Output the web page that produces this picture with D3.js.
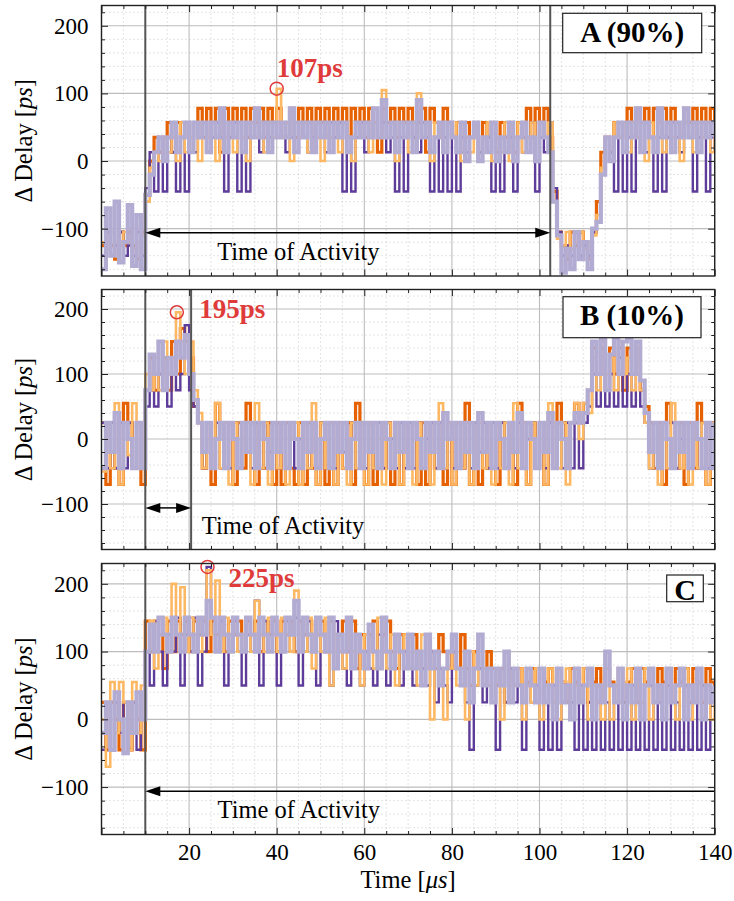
<!DOCTYPE html>
<html>
<head>
<meta charset="utf-8">
<script src="https://cdn.jsdelivr.net/npm/d3@7"></script>
<style>
body{margin:0;background:#fff}
</style>
</head>
<body>
<div id="chart"></div>
<script>
// one value per microsecond, t = 0 .. 140
const A_dkOrange = [-125,-105,-125,-145,-105,-125,-105,-125,-145,-105,
 -50,0,35,13,35,57,13,57,35,57,
 13,57,78,35,78,57,78,13,78,35,
 78,57,78,35,78,57,78,35,78,57,
 78,35,57,78,35,78,57,78,13,78,
 57,78,35,78,57,78,35,78,57,78,
 35,78,57,13,78,57,78,35,78,57,
 78,35,57,78,13,78,57,35,78,57,
 35,57,13,57,35,57,13,57,35,57,
 13,57,35,57,13,57,35,78,35,78,
 57,78,35,-45,-105,-125,-145,-105,-125,-105,
 -125,-145,-105,-60,13,35,13,57,35,57,
 78,35,78,57,78,35,78,57,78,35,
 78,57,35,78,57,78,35,78,57,78,
 35]
const A_ltOrange = [-120,-130,-105,-120,-125,-105,-120,-130,-120,-110,
 -60,-10,13,0,35,13,35,0,57,13,
 35,57,0,57,35,57,0,57,35,57,
 13,57,35,0,57,35,57,13,57,35,
 107,35,57,0,57,35,57,13,57,35,
 0,57,35,57,13,57,35,0,57,35,
 57,13,57,35,105,35,57,0,57,35,
 13,57,100,35,57,0,57,35,13,57,
 35,57,0,35,13,57,0,35,57,0,
 35,13,57,0,35,57,13,35,57,0,
 57,35,57,-60,-115,-125,-105,-130,-120,-105,
 -130,-120,-110,-80,-10,35,0,57,35,57,
 13,57,35,57,0,57,35,57,13,57,
 35,57,0,57,35,13,57,35,57,13,
 35]
const A_dkPurple = [-140,-105,-140,-125,-105,-140,-125,-140,-105,-140,
 -40,13,-45,35,-45,35,13,-45,35,-45,
 35,13,35,57,13,35,57,35,-45,35,
 57,-45,35,-45,57,35,13,57,35,57,
 35,57,13,35,57,35,57,13,35,57,
 35,13,57,35,57,-45,35,-45,35,57,
 13,35,57,35,57,13,35,-45,35,-45,
 57,35,13,57,35,-45,35,-45,35,-45,
 35,-45,35,13,35,57,13,35,35,-45,
 35,-45,13,35,-45,35,13,35,57,-45,
 35,13,57,-40,-105,-140,-125,-140,-105,-140,
 -125,-140,-105,-90,-20,35,13,-45,35,-45,
 35,-45,35,57,13,35,-45,35,-45,35,
 57,35,13,57,35,-45,35,57,-45,35,
 13]
const A_ltPurple = [-160,-70,-140,-60,-150,-120,-65,-155,-80,-160,
 -50,-20,13,35,0,35,57,13,35,57,
 13,57,35,57,13,57,35,78,13,57,
 35,57,13,57,35,78,35,57,13,57,
 35,57,35,78,13,57,35,57,13,57,
 35,57,13,57,35,57,13,35,57,35,
 57,35,78,35,90,35,57,13,57,35,
 57,13,90,35,57,13,35,57,13,57,
 35,13,57,0,35,57,0,35,13,57,
 0,35,13,57,0,35,57,13,35,0,
 57,35,13,-60,-110,-165,-130,-160,-105,-145,
 -120,-160,-100,-90,-20,35,0,35,57,13,
 57,35,78,13,57,35,13,78,35,57,
 13,57,35,78,35,57,13,57,35,57,
 35]

const B_dkOrange = [25,-70,25,-45,-70,55,25,-45,25,-70,
 75,125,75,100,125,75,150,100,170,150,
 125,50,25,-45,25,-70,55,25,-45,25,
 -70,25,-45,55,25,-70,25,-45,25,-70,
 25,-70,25,-45,-70,25,-70,25,-45,-70,
 25,-70,25,-70,25,-45,25,-70,55,25,
 -70,25,-70,25,-45,25,-70,25,-70,25,
 -45,25,-70,25,-70,25,-45,25,-70,25,
 -70,25,-45,55,-70,25,-70,25,-45,25,
 -70,25,-45,25,-70,55,25,-70,25,-45,
 25,-70,25,-45,55,25,-45,25,55,25,
 55,75,140,100,140,75,140,100,140,75,
 140,100,140,75,50,25,-45,25,-70,55,
 25,-45,25,-70,25,-45,55,25,-70,25,
 -45]
const B_ltOrange = [-50,25,-45,55,-70,25,-25,55,-45,0,
 100,75,125,75,150,100,125,195,150,100,
 150,75,40,-45,25,-25,55,-45,25,-70,
 25,-45,0,25,-70,55,-45,25,-70,25,
 -45,25,-70,0,25,-70,25,-45,55,-70,
 25,-45,25,-70,25,-45,-70,25,-45,25,
 -70,25,-45,0,-70,25,-45,25,-70,25,
 -45,-70,25,-45,25,-70,25,55,-45,25,
 -70,25,-45,25,-70,0,25,-45,25,-70,
 25,-45,25,-70,55,-45,25,-70,25,-45,
 25,-70,55,25,-45,25,-70,25,55,0,
 55,40,125,75,150,100,125,75,150,100,
 125,75,140,75,25,-45,25,-70,25,-45,
 55,25,-45,25,-70,25,-45,25,-70,25,
 0]
const B_dkPurple = [25,-45,25,-45,25,-45,25,-45,25,-45,
 50,75,50,100,75,50,100,75,100,175,
 75,50,25,-45,25,-45,25,-45,25,-45,
 25,-45,0,25,-45,25,-45,25,-20,25,
 -45,25,-45,25,-45,0,25,-45,25,-45,
 25,-45,25,-45,25,-20,-45,25,-45,25,
 -45,25,-45,25,-45,25,0,-45,25,-45,
 25,-45,25,-45,0,25,-45,25,-45,25,
 -45,25,-45,25,-45,25,-20,25,-45,25,
 -45,25,-45,25,-45,25,-45,0,25,-45,
 25,-45,25,-45,25,-45,25,-45,25,-45,
 25,50,100,50,150,50,100,50,125,50,
 100,50,150,50,25,-45,25,-45,25,-45,
 25,-45,0,25,-45,25,-45,25,-45,25,
 -45]
const B_ltPurple = [-45,25,-20,40,-45,25,0,-45,25,-45,
 75,130,100,150,75,125,100,150,125,160,
 100,60,25,-20,25,-45,0,25,-45,25,
 0,-45,25,-20,25,-45,25,0,-45,25,
 -20,25,-45,25,0,-45,25,-20,25,-45,
 0,25,-45,25,-20,25,-45,0,25,-45,
 25,-20,25,-45,25,0,-45,25,-20,25,
 -45,25,0,-45,25,-20,25,-45,40,0,
 25,-45,25,-20,25,-45,40,-20,25,-45,
 25,0,-45,25,-20,40,-45,25,0,-45,
 25,-20,40,-45,25,0,-45,25,40,25,
 40,75,150,100,155,75,130,155,100,150,
 155,100,150,90,40,-20,25,-45,25,0,
 -45,25,-20,25,-45,25,0,-45,25,-45,
 25]

const C_dkOrange = [25,-45,25,0,-45,25,-45,25,0,-45,
 145,100,145,125,75,145,100,145,125,145,
 100,145,125,145,100,145,125,145,100,145,
 125,145,100,145,125,145,100,145,125,145,
 100,145,125,145,100,145,125,145,100,125,
 145,100,145,75,125,145,100,145,75,125,
 100,125,145,75,125,145,100,75,125,100,
 75,125,100,75,125,100,75,125,100,75,
 100,75,125,75,50,100,75,50,100,75,
 50,75,25,75,50,75,25,55,75,25,
 75,55,75,25,75,55,25,75,55,25,
 75,25,55,75,25,75,55,25,75,25,
 55,75,25,75,55,75,25,75,55,75,
 25,75,55,75,25,75,55,25,75,55,
 25]
const C_ltOrange = [0,-70,55,-20,55,25,-45,55,-20,50,
 100,145,75,125,150,100,200,125,195,100,
 150,125,100,150,220,125,205,100,150,125,
 150,100,125,150,100,175,125,100,150,125,
 100,150,125,100,190,125,100,150,75,125,
 100,150,50,125,100,75,150,100,125,50,
 125,100,75,150,100,75,125,50,100,125,
 75,100,50,125,75,0,100,50,0,75,
 125,50,75,0,100,50,125,75,50,25,
 75,0,100,25,50,75,0,50,25,75,
 0,50,75,25,0,55,75,0,50,25,
 75,0,50,25,0,75,0,50,25,0,
 75,0,50,25,75,0,25,50,0,75,
 25,0,50,75,0,25,55,0,50,0,
 25]
const C_dkPurple = [-45,25,-45,25,-20,25,-45,25,-45,0,
 100,50,145,100,50,125,100,150,50,125,
 100,150,50,100,225,125,100,145,50,100,
 145,100,50,125,100,175,50,145,100,125,
 50,100,145,100,150,50,100,145,100,50,
 125,100,50,145,100,75,50,100,125,50,
 100,75,50,125,100,50,75,125,50,100,
 75,50,100,75,50,100,25,75,50,25,
 100,75,50,25,-45,50,75,25,50,25,
 -45,50,25,75,25,50,-45,50,25,50,
 -45,25,-45,50,-45,25,50,25,-45,50,
 -45,25,-45,50,-45,25,-45,50,-45,25,
 -45,50,-45,25,-45,50,-45,25,-45,50,
 -45,25,-45,50,-45,25,-45,50,-45,25,
 50]
const C_ltPurple = [-20,25,-45,40,0,-50,25,-20,40,0,
 100,140,100,150,125,100,150,125,100,150,
 125,100,150,125,175,150,100,150,125,100,
 150,125,100,150,125,100,150,125,100,150,
 125,100,150,125,175,100,150,125,100,150,
 125,100,150,75,125,100,150,75,125,100,
 75,140,100,75,150,100,75,125,100,75,
 125,75,100,50,125,75,100,50,75,100,
 125,75,50,100,25,75,125,50,75,25,
 75,50,100,25,75,50,25,75,50,25,
 75,25,50,0,75,25,50,0,75,25,
 50,75,0,50,25,100,50,25,75,0,
 50,25,75,0,50,75,25,50,0,75,
 25,50,75,0,50,25,75,0,50,25,
 50]

const xLabelTicks = [20,40,60,80,100,120,140]
const yLabelTicks = [-100,0,100,200]
const panelLabels = ["A (90%)","B (10%)","C"]
const peakTime = [40,17.2,24.2]
const peakValue = [107,195,225]
const peakText = ["107ps","195ps","225ps"]
const actStart = [10,10,10]
const actEnd = [102.45,20.46,140]
const actTextTime = [26.4,22.9,26.5]

const panelSeries = [
  [A_dkOrange,A_dkPurple,A_ltOrange,A_ltPurple],
  [B_dkOrange,B_dkPurple,B_ltOrange,B_ltPurple],
  [C_dkOrange,C_dkPurple,C_ltOrange,C_ltPurple]
]
const seriesColor = ["#e66101","#5e3c99","#fdb863","#b2abd2"]
const seriesWidth = [3.2,2.4,2.6,4.2]

var width = 734, height = 901
var plotLeft = 101.5, plotRight = 714.7
var panelTop = [5.5,289.5,563.5]
var panelBottom = [276,549.5,834.5]
var labelBox = [[562.7,13.3,139,39.4],[563,296.7,138,41],[666.7,575,36.6,26.7]]
var labelBase = [42,325,599.5]
var peakDx = [0,22.5,21]
var peakDy = [-11.3,6,20.3]
var serif = "'Liberation Serif','Times New Roman',serif"
var red = "#e03b3b"

const svg = d3.select("#chart").append("svg")
  .attr("width",width)
  .attr("height",height)
  .style("background","#fff")

const x = d3.scaleLinear().domain([0,140]).range([plotLeft,plotRight])

function tickAxis(g, axis, tr, values, size){
  g.append("g")
   .attr("transform",tr)
   .call(axis.tickValues(values).tickSize(size).tickFormat(""))
   .call(s=>s.select(".domain").remove())
   .selectAll("line").attr("stroke","#222")
}

panelLabels.forEach((name,p)=>{
  const top = panelTop[p], bottom = panelBottom[p]
  const y = d3.scaleLinear().domain([-170,230]).range([bottom,top])
  const g = svg.append("g")

  const xMinor = x.ticks(28).filter(d=>d%20!==0)
  const xMajor = x.ticks(7)
  const yMinor = y.ticks(20).filter(d=>d%100!==0)

  // dotted minor grid
  g.selectAll(".gxm").data(xMinor).enter().append("line")
   .attr("x1",d=>x(d)).attr("x2",d=>x(d))
   .attr("y1",top).attr("y2",bottom)
   .attr("stroke","#c8c8c8").attr("stroke-dasharray","1,3")
  g.selectAll(".gym").data(yMinor).enter().append("line")
   .attr("x1",plotLeft).attr("x2",plotRight)
   .attr("y1",d=>y(d)).attr("y2",d=>y(d))
   .attr("stroke","#c8c8c8").attr("stroke-dasharray","1,3")

  // major grid
  g.selectAll(".gx").data(xMajor).enter().append("line")
   .attr("x1",d=>x(d)).attr("x2",d=>x(d))
   .attr("y1",top).attr("y2",bottom)
   .attr("stroke","#bdbdbd").attr("stroke-width",1.1)
  g.selectAll(".gy").data(yLabelTicks).enter().append("line")
   .attr("x1",plotLeft).attr("x2",plotRight)
   .attr("y1",d=>y(d)).attr("y2",d=>y(d))
   .attr("stroke","#bdbdbd").attr("stroke-width",1.1)

  g.append("clipPath").attr("id","clip"+p)
   .append("rect")
   .attr("x",plotLeft).attr("y",top)
   .attr("width",plotRight-plotLeft).attr("height",bottom-top)

  const line = d3.line()
   .x((d,i)=>x(i))
   .y(d=>y(d))
   .curve(d3.curveStepAfter)

  panelSeries[p].forEach((s,k)=>{
    g.append("path")
     .datum(s)
     .attr("d",line)
     .attr("fill","none")
     .attr("stroke",seriesColor[k])
     .attr("stroke-width",seriesWidth[k])
     .attr("clip-path","url(#clip"+p+")")
  })

  // time of activity markers
  g.append("line")
   .attr("x1",x(actStart[p])).attr("x2",x(actStart[p]))
   .attr("y1",top).attr("y2",bottom)
   .attr("stroke","#555").attr("stroke-width",2)
  if(actEnd[p]<140){
    g.append("line")
     .attr("x1",x(actEnd[p])).attr("x2",x(actEnd[p]))
     .attr("y1",top).attr("y2",bottom)
     .attr("stroke","#555").attr("stroke-width",2)
  }
  const ay = y(-106)
  const ax0 = x(actStart[p]), ax1 = x(actEnd[p])
  g.append("line")
   .attr("x1",ax0+10).attr("x2",actEnd[p]<140 ? ax1-10 : ax1)
   .attr("y1",ay).attr("y2",ay)
   .attr("stroke","#000").attr("stroke-width",1.5)
  g.append("path")
   .attr("d",`M${ax0},${ay}L${ax0+15},${ay-5}L${ax0+15},${ay+5}Z`)
   .attr("fill","#000")
  if(actEnd[p]<140){
    g.append("path")
     .attr("d",`M${ax1},${ay}L${ax1-15},${ay-5}L${ax1-15},${ay+5}Z`)
     .attr("fill","#000")
  }
  g.append("text")
   .attr("x",x(actTextTime[p]))
   .attr("y",y(-146))
   .attr("font-family",serif)
   .attr("font-size",24.5)
   .text("Time of Activity")

  // peak annotation
  g.append("circle")
   .attr("cx",x(peakTime[p])).attr("cy",y(peakValue[p]))
   .attr("r",6.5)
   .attr("fill","none").attr("stroke",red).attr("stroke-width",1.5)
  g.append("text")
   .attr("x",x(peakTime[p])+peakDx[p])
   .attr("y",y(peakValue[p])+peakDy[p])
   .attr("font-family",serif)
   .attr("font-weight","bold")
   .attr("font-size",27)
   .attr("fill",red)
   .text(peakText[p])

  // ticks on all four sides, pointing inward
  tickAxis(g,d3.axisBottom(x),`translate(0,${bottom})`,xMinor,-3.5)
  tickAxis(g,d3.axisBottom(x),`translate(0,${bottom})`,xMajor,-6.5)
  tickAxis(g,d3.axisTop(x),`translate(0,${top})`,xMinor,-3.5)
  tickAxis(g,d3.axisTop(x),`translate(0,${top})`,xMajor,-6.5)
  tickAxis(g,d3.axisLeft(y),`translate(${plotLeft},0)`,yMinor,-3.5)
  tickAxis(g,d3.axisLeft(y),`translate(${plotLeft},0)`,yLabelTicks,-6.5)
  tickAxis(g,d3.axisRight(y),`translate(${plotRight},0)`,yMinor,-3.5)
  tickAxis(g,d3.axisRight(y),`translate(${plotRight},0)`,yLabelTicks,-6.5)

  g.append("g")
   .attr("transform",`translate(${plotLeft},0)`)
   .call(d3.axisLeft(y).tickValues(yLabelTicks).tickSize(0).tickPadding(13)
     .tickFormat(d=>d<0 ? "\u2212"+Math.abs(d) : d))
   .call(s=>s.select(".domain").remove())
   .attr("font-family",serif)
   .attr("font-size",23)
   .selectAll("text").attr("fill","#000")

  if(p===2){
    g.append("g")
     .attr("transform",`translate(0,${bottom})`)
     .call(d3.axisBottom(x).tickValues(xLabelTicks).tickSize(0).tickPadding(9))
     .call(s=>s.select(".domain").remove())
     .attr("font-family",serif)
     .attr("font-size",23)
     .selectAll("text").attr("fill","#000")
  }

  g.append("rect")
   .attr("x",plotLeft).attr("y",top)
   .attr("width",plotRight-plotLeft).attr("height",bottom-top)
   .attr("fill","none").attr("stroke","#222").attr("stroke-width",1.4)

  // y title
  const yt = g.append("text")
   .attr("transform",`translate(32,${(top+bottom)/2})rotate(-90)`)
   .attr("text-anchor","middle")
   .attr("font-family",serif)
   .attr("font-size",24.5)
  yt.append("tspan").text("\u0394 Delay [")
  yt.append("tspan").attr("font-style","italic").text("ps")
  yt.append("tspan").text("]")

  // panel label box
  const b = labelBox[p]
  g.append("rect")
   .attr("x",b[0]).attr("y",b[1]).attr("width",b[2]).attr("height",b[3])
   .attr("fill","#fff").attr("stroke","#222").attr("stroke-width",1.2)
  g.append("text")
   .attr("x",b[0]+b[2]/2)
   .attr("y",labelBase[p])
   .attr("text-anchor","middle")
   .attr("font-family",serif)
   .attr("font-weight","bold")
   .attr("font-size",p===2 ? 30 : 29)
   .text(name)
})

const xt = svg.append("text")
 .attr("x",(plotLeft+plotRight)/2)
 .attr("y",888)
 .attr("text-anchor","middle")
 .attr("font-family",serif)
 .attr("font-size",24.5)
xt.append("tspan").text("Time [")
xt.append("tspan").attr("font-style","italic").text("\u03bcs")
xt.append("tspan").text("]")
</script>
</body>
</html>
